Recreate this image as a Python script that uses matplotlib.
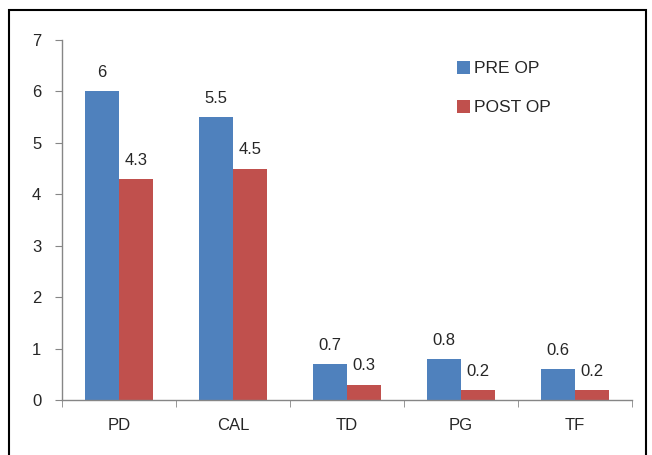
import numpy as np
import matplotlib
matplotlib.use("Agg")
import matplotlib.pyplot as plt
from matplotlib.patches import Rectangle

plt.rcParams["font.family"] = ["Liberation Sans", "DejaVu Sans"]

categories = ["PD", "CAL", "TD", "PG", "TF"]
pre_op = [6, 5.5, 0.7, 0.8, 0.6]
post_op = [4.3, 4.5, 0.3, 0.2, 0.2]
series_names = ["PRE OP", "POST OP"]

BLUE = "#4F81BD"
RED = "#C0504D"
AXIS_GRAY = "#868686"
TEXT = "#262626"
FS = 12

fig = plt.figure(figsize=(6.52, 4.55), dpi=100)
ax = fig.add_axes([0.0951, 0.1209, 0.8742, 0.7912])

x = np.arange(len(categories))
width = 0.3
b1 = ax.bar(x - width / 2, pre_op, width, color=BLUE, label=series_names[0])
b2 = ax.bar(x + width / 2, post_op, width, color=RED, label=series_names[1])

for bars, vals in ((b1, pre_op), (b2, post_op)):
    for rect, v in zip(bars, vals):
        ax.annotate(f"{v:g}", (rect.get_x() + rect.get_width() / 2, v),
                    xytext=(0, 8), textcoords="offset points",
                    ha="center", va="bottom", fontsize=FS, color=TEXT)

ax.set_xlim(-0.5, len(categories) - 0.5)
ax.set_ylim(0, 7)
ax.set_yticks(range(0, 8))
ax.set_xticks(x)
ax.set_xticklabels(categories)
# category boundary ticks on the x axis
ax.set_xticks(np.arange(-0.5, len(categories), 1.0), minor=True)
ax.tick_params(axis="x", which="major", length=0, pad=13, labelsize=FS,
               labelcolor=TEXT)
ax.tick_params(axis="x", which="minor", length=5, color=AXIS_GRAY, direction="out")
ax.tick_params(axis="y", length=5, color=AXIS_GRAY, direction="out", pad=10,
               labelsize=FS, labelcolor=TEXT)

for side in ("top", "right"):
    ax.spines[side].set_visible(False)
for side in ("left", "bottom"):
    ax.spines[side].set_color(AXIS_GRAY)
    ax.spines[side].set_linewidth(1.0)

leg = ax.legend(loc="upper left", bbox_to_anchor=(0.665, 0.985), frameon=False,
                fontsize=12.5, handlelength=0.75, handleheight=0.75,
                handletextpad=0.25, labelspacing=1.35)
for t in leg.get_texts():
    t.set_color(TEXT)

fig.patches.append(Rectangle((9 / 652, -0.05), 637 / 652, 1 - 10 / 455 + 0.05,
                             transform=fig.transFigure, fill=False,
                             edgecolor="black", linewidth=1.5))

fig.savefig("out.png", dpi=100)
